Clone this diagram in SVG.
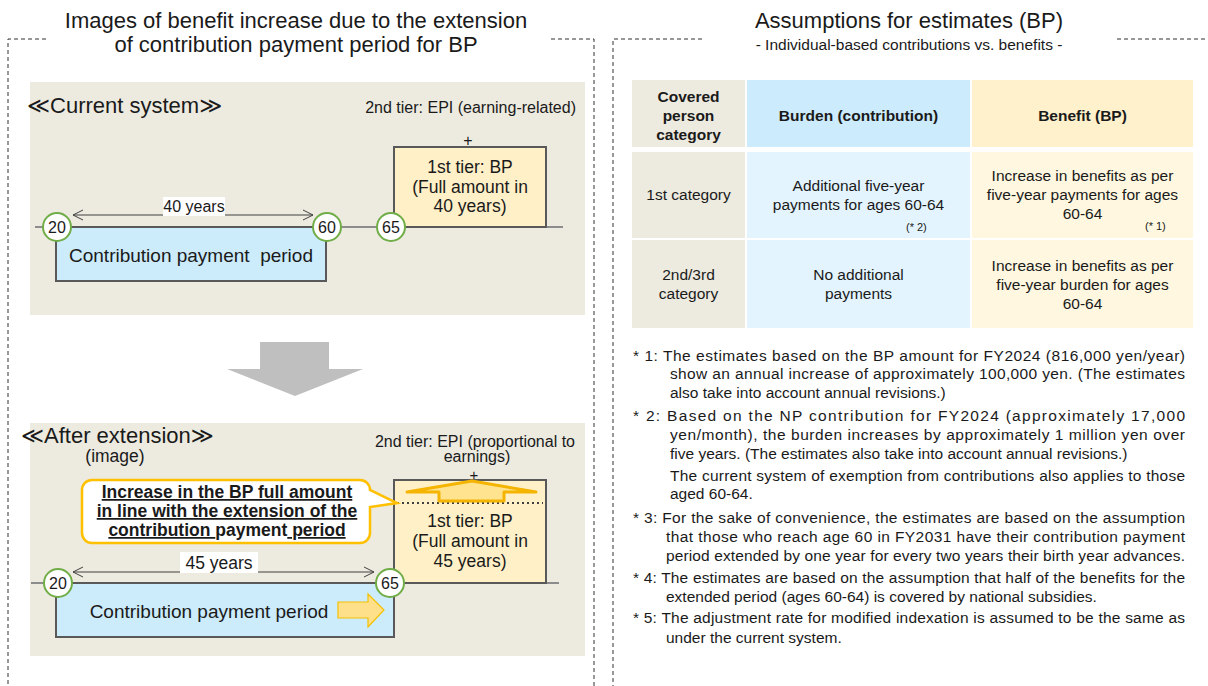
<svg xmlns="http://www.w3.org/2000/svg" width="1208" height="686" viewBox="0 0 1208 686">
  <defs>
    <style>
      text { font-family: "Liberation Sans", Arial, "DejaVu Sans", sans-serif; fill: #1a1a1a; }
      .title { font-size: 22px; text-anchor: middle; }
      .sub { font-size: 15.5px; text-anchor: middle; }
      .frame { fill: none; stroke: #333; stroke-width: 1; stroke-dasharray: 4 3; }
      .panel { fill: #EDEAE0; }
      .heading { font-size: 22px; }
      .tier2 { font-size: 16px; }
      .timeline { stroke: #8C8C8C; stroke-width: 2; }
      .period { fill: #CCEBFB; stroke: #595959; stroke-width: 2; }
      .bp { fill: #FFF0C8; stroke: #595959; stroke-width: 2; }
      .bptxt { font-size: 17.5px; text-anchor: middle; }
      .age circle { fill: #fff; stroke: #70AD47; stroke-width: 2; }
      .age text { font-size: 16px; text-anchor: middle; }
      .dim { stroke: #404040; stroke-width: 1; fill: none; }
      .lbl { fill: #fff; }
      .callout { fill: #fff; stroke: #FFC000; stroke-width: 2.5; }
      .ctxt { font-size: 17.5px; font-weight: bold; text-anchor: middle; }
      .ul { text-decoration: underline; }
      .c1h { fill: #EDEAE0; } .c1 { fill: #EDEAE0; }
      .c2h { fill: #CCEBFC; } .c2 { fill: #E3F4FE; }
      .c3h { fill: #FFF1CC; } .c3 { fill: #FFF7E0; }
      .th { font-size: 15.5px; font-weight: bold; text-anchor: middle; }
      .td { font-size: 15.5px; text-anchor: middle; }
      .ref { font-size: 11px; }
      .note { font-size: 15.5px; }
    </style>
    <marker id="chev" viewBox="0 0 12 12" refX="11" refY="6" markerWidth="12" markerHeight="12" markerUnits="userSpaceOnUse" orient="auto-start-reverse">
      <path d="M1,1 L11,6 L1,11" fill="none" stroke="#404040" stroke-width="1"/>
    </marker>
  </defs>

  <rect width="1208" height="686" fill="#fff"/>

  <!-- dashed frames -->
  <g id="frames">
    <path class="frame" d="M46,39 H8 V686"/>
    <path class="frame" d="M551,39 H594 V686"/>
    <path class="frame" d="M702,39 H613 V686"/>
    <path class="frame" d="M1117,39 H1208"/>
  </g>

  <!-- left column heading -->
  <g id="title-left">
    <text class="title" x="296" y="28">Images of benefit increase due to the extension</text>
    <text class="title" x="296" y="52">of contribution payment period for BP</text>
  </g>

  <!-- current system -->
  <g id="panel-current">
    <rect class="panel" x="30" y="82" width="555" height="233"/>
    <text class="heading" x="27" y="113">≪Current system≫</text>
    <text class="tier2" x="576" y="113" text-anchor="end">2nd tier: EPI (earning-related)</text>
    <line class="timeline" x1="35" y1="227" x2="563" y2="227"/>
  </g>
  <g id="bp-current">
    <text class="tier2" x="468" y="146" text-anchor="middle">+</text>
    <rect class="bp" x="394" y="147" width="152" height="80"/>
    <text class="bptxt" x="470" y="173">1st tier: BP</text>
    <text class="bptxt" x="470" y="193">(Full amount in</text>
    <text class="bptxt" x="470" y="212">40 years)</text>
  </g>
  <g id="period-current">
    <rect class="period" x="56" y="227" width="270" height="54"/>
    <text x="191" y="262" font-size="19" text-anchor="middle" xml:space="preserve">Contribution payment  period</text>
  </g>

  <!-- extended system -->
  <g id="panel-after">
    <rect class="panel" x="30" y="423" width="555" height="233"/>
    <text class="heading" x="21" y="443">≪After extension≫</text>
    <text x="115" y="462" font-size="17.5" text-anchor="middle">(image)</text>
    <text class="tier2" x="575" y="447" text-anchor="end">2nd tier: EPI (proportional to</text>
    <text class="tier2" x="477" y="462" text-anchor="middle">earnings)</text>
    <line class="timeline" x1="31" y1="583" x2="559" y2="583"/>
  </g>
  <g id="bp-after">
    <text x="474" y="480" font-size="15" text-anchor="middle">+</text>
    <rect class="bp" x="394" y="480" width="152" height="103"/>
    <line x1="397" y1="503" x2="543" y2="503" stroke="#404040" stroke-width="2" stroke-dasharray="2 3"/>
    <polygon points="472,481 536,492 504,492 504,501 439,501 439,492 407,492" fill="#FFE38F" stroke="#F5B400" stroke-width="3" stroke-linejoin="round"/>
    <text class="bptxt" x="470" y="527">1st tier: BP</text>
    <text class="bptxt" x="470" y="547">(Full amount in</text>
    <text class="bptxt" x="470" y="567">45 years)</text>
  </g>
  <g id="period-after">
    <rect class="period" x="56" y="583" width="338" height="54"/>
    <text x="209" y="618" font-size="19" text-anchor="middle">Contribution payment period</text>
    <polygon points="338,602 368,602 368,594 384,610 368,627 368,618 338,618" fill="#FFE08A" stroke="#F5C000" stroke-width="1.2"/>
  </g>
  <g id="callout">
    <path class="callout" d="M92,480 H360 A10,10 0 0 1 370,490 L397,503 L370,507 V533 A10,10 0 0 1 360,543 H92 A10,10 0 0 1 82,533 V490 A10,10 0 0 1 92,480 Z"/>
    <text class="ctxt" x="227" y="498"><tspan class="ul">Increase in the BP full amount</tspan></text>
    <text class="ctxt" x="227" y="517"><tspan class="ul">in line with the extension of the</tspan></text>
    <text class="ctxt" x="227" y="536" xml:space="preserve"><tspan class="ul">contribution </tspan>payment<tspan class="ul"> period</tspan></text>
  </g>

  <!-- age markers -->
  <g id="ages" class="age">
    <g id="age-20a"><circle cx="57" cy="227" r="14"/><text x="57" y="233">20</text></g>
    <g id="age-60a"><circle cx="327" cy="227" r="14"/><text x="327" y="233">60</text></g>
    <g id="age-65a"><circle cx="391" cy="227" r="14"/><text x="391" y="233">65</text></g>
    <g id="age-20b"><circle cx="58" cy="583" r="14"/><text x="58" y="589">20</text></g>
    <g id="age-65b"><circle cx="390" cy="583" r="14"/><text x="390" y="589">65</text></g>
  </g>

  <!-- connectors -->
  <g id="connectors">
    <polygon points="260,342 329,342 329,369 363,369 295,396 227,369 260,369" fill="#BFBFBF"/>
    <line class="dim" x1="73" y1="215" x2="313" y2="215" marker-start="url(#chev)" marker-end="url(#chev)"/>
    <rect class="lbl" x="163" y="197" width="62" height="19"/>
    <text x="194" y="212" font-size="16" text-anchor="middle">40 years</text>
    <line class="dim" x1="73" y1="572" x2="374" y2="572" marker-start="url(#chev)" marker-end="url(#chev)"/>
    <rect class="lbl" x="180" y="552" width="78" height="21"/>
    <text x="219" y="569" font-size="17.5" text-anchor="middle">45 years</text>
  </g>

  <!-- right column heading -->
  <g id="title-right">
    <text class="title" x="909" y="28">Assumptions for estimates (BP)</text>
    <text class="sub" x="909" y="50">- Individual-based contributions vs. benefits -</text>
  </g>

  <!-- table -->
  <g id="table">
    <rect class="c1h" x="632" y="80" width="113" height="67"/>
    <rect class="c2h" x="747" y="80" width="223" height="67"/>
    <rect class="c3h" x="972" y="80" width="221" height="67"/>
    <rect class="c1" x="632" y="152" width="113" height="86"/>
    <rect class="c2" x="747" y="152" width="223" height="86"/>
    <rect class="c3" x="972" y="152" width="221" height="86"/>
    <rect class="c1" x="632" y="240" width="113" height="88"/>
    <rect class="c2" x="747" y="240" width="223" height="88"/>
    <rect class="c3" x="972" y="240" width="221" height="88"/>

    <text class="th" x="688.5" y="102">Covered</text>
    <text class="th" x="688.5" y="121">person</text>
    <text class="th" x="688.5" y="140">category</text>
    <text class="th" x="858.5" y="121">Burden (contribution)</text>
    <text class="th" x="1082.5" y="121">Benefit (BP)</text>

    <text class="td" x="688.5" y="200">1st category</text>
    <text class="td" x="858.5" y="191">Additional five-year</text>
    <text class="td" x="858.5" y="210">payments for ages 60-64</text>
    <text class="ref" x="906" y="231">(* 2)</text>
    <text class="td" x="1082.5" y="181">Increase in benefits as per</text>
    <text class="td" x="1082.5" y="200">five-year payments for ages</text>
    <text class="td" x="1082.5" y="219">60-64</text>
    <text class="ref" x="1145" y="230">(* 1)</text>

    <text class="td" x="688.5" y="280">2nd/3rd</text>
    <text class="td" x="688.5" y="299">category</text>
    <text class="td" x="858.5" y="280">No additional</text>
    <text class="td" x="858.5" y="299">payments</text>
    <text class="td" x="1082.5" y="271">Increase in benefits as per</text>
    <text class="td" x="1082.5" y="290">five-year burden for ages</text>
    <text class="td" x="1082.5" y="309">60-64</text>
  </g>

  <!-- footnotes -->
  <g id="notes" class="note">
    <text class="note" x="633" y="361" textLength="552" lengthAdjust="spacing">* 1: The estimates based on the BP amount for FY2024 (816,000 yen/year)</text>
    <text class="note" x="670" y="379" textLength="515" lengthAdjust="spacing">show an annual increase of approximately 100,000 yen. (The estimates</text>
    <text class="note" x="670" y="398">also take into account annual revisions.)</text>
    <text class="note" x="633" y="421" textLength="552" lengthAdjust="spacing">* 2: Based on the NP contribution for FY2024 (approximately 17,000</text>
    <text class="note" x="670" y="440" textLength="515" lengthAdjust="spacing">yen/month), the burden increases by approximately 1 million yen over</text>
    <text class="note" x="670" y="459">five years. (The estimates also take into account annual revisions.)</text>
    <text class="note" x="670" y="481" textLength="515" lengthAdjust="spacing">The current system of exemption from contributions also applies to those</text>
    <text class="note" x="670" y="499">aged 60-64.</text>
    <text class="note" x="633" y="523" textLength="552" lengthAdjust="spacing">* 3: For the sake of convenience, the estimates are based on the assumption</text>
    <text class="note" x="666" y="542" textLength="519" lengthAdjust="spacing">that those who reach age 60 in FY2031 have their contribution payment</text>
    <text class="note" x="666" y="561" textLength="519" lengthAdjust="spacing">period extended by one year for every two years their birth year advances.</text>
    <text class="note" x="633" y="583" textLength="552" lengthAdjust="spacing">* 4: The estimates are based on the assumption that half of the benefits for the</text>
    <text class="note" x="666" y="602">extended period (ages 60-64) is covered by national subsidies.</text>
    <text class="note" x="633" y="623" textLength="552" lengthAdjust="spacing">* 5: The adjustment rate for modified indexation is assumed to be the same as</text>
    <text class="note" x="666" y="643">under the current system.</text>
  </g>
</svg>
